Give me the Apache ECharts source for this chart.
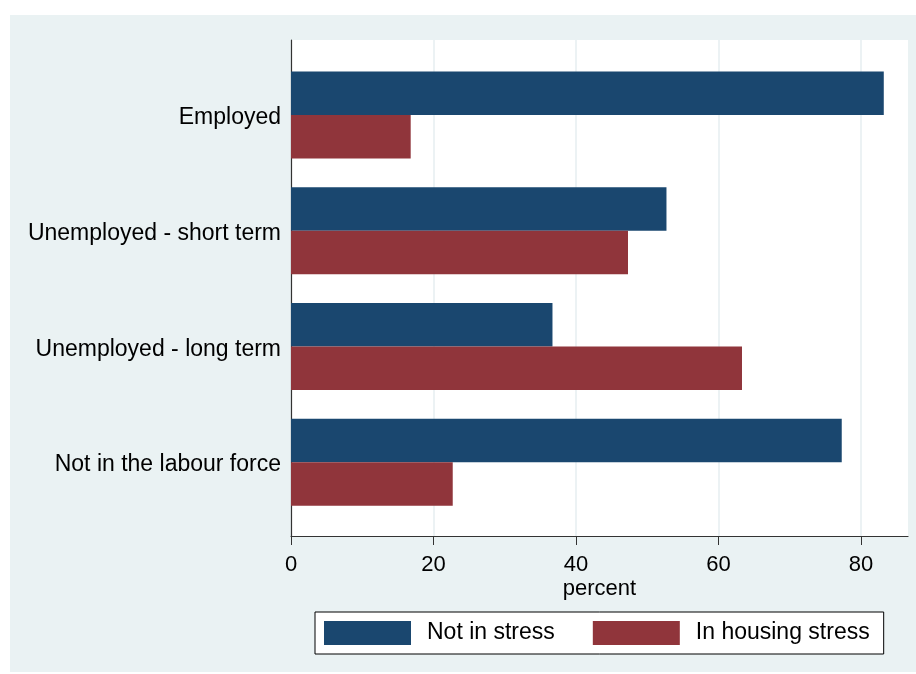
<!DOCTYPE html>
<html>
<head>
<meta charset="utf-8">
<script src="https://cdn.jsdelivr.net/npm/echarts@6/dist/echarts.min.js"></script>
<style>
  html, body { margin: 0; padding: 0; background: #fff; }
  #main { width: 916px; height: 674px; }
</style>
</head>
<body>
<div id="main"></div>
<script>
// labour force status, share of people in / not in housing stress (percent)
var categories = ['Employed', 'Unemployed - short term', 'Unemployed - long term', 'Not in the labour force'];
var notInStress = [83.2, 52.7, 36.7, 77.3];
var inHousingStress = [16.8, 47.3, 63.3, 22.7];
var xTicks = [0, 20, 40, 60, 80];

var chart = echarts.init(document.getElementById('main'));
var font = '"Liberation Sans", Arial, sans-serif';
var xMax = 86.6;

var option = {
  backgroundColor: '#fff',
  animation: false,
  graphic: [{
    type: 'rect',
    z: -10,
    silent: true,
    shape: { x: 10, y: 15, width: 906, height: 657 },
    style: { fill: '#eaf2f3' }
  }],
  grid: [
    // plot frame: white panel + axes
    { left: 291, right: 8, top: 40, bottom: 138, show: true, backgroundColor: '#fff', borderWidth: 0 },
    // bars
    { left: 291, right: 8, top: 57, height: 463 }
  ],
  xAxis: [
    {
      gridIndex: 0, type: 'value', min: 0, max: xMax, interval: 20,
      axisLine: { show: true, onZero: false, lineStyle: { color: '#333', width: 1.2 } },
      axisTick: { show: true, length: 9, customValues: xTicks, lineStyle: { color: '#333' } },
      axisLabel: { fontSize: 22, color: '#000', fontFamily: font, margin: 18, customValues: xTicks },
      splitLine: { show: true, lineStyle: { color: '#e6eef1', width: 1.5 } },
      name: 'percent', nameLocation: 'middle', nameGap: 42, nameMoveOverlap: false,
      nameTextStyle: { fontSize: 22, color: '#000', fontFamily: font }
    },
    { gridIndex: 1, type: 'value', min: 0, max: xMax, show: false }
  ],
  yAxis: [
    {
      gridIndex: 0, type: 'value', min: 0, max: 1,
      axisLine: { show: true, onZero: false, lineStyle: { color: '#333', width: 1.2 } },
      axisTick: { show: false }, axisLabel: { show: false }, splitLine: { show: false }
    },
    {
      gridIndex: 1, type: 'category', inverse: true, data: categories,
      axisLine: { show: false }, axisTick: { show: false },
      axisLabel: {
        margin: 10,
        formatter: function (v) { return '{c|' + v + '}'; },
        rich: { c: { fontSize: 23, color: '#000', fontFamily: font, padding: [6, 0, 0, 0] } }
      }
    }
  ],
  legend: {
    data: ['Not in stress', 'In housing stress'],
    left: 315, top: 612,
    orient: 'horizontal',
    borderColor: '#000', borderWidth: 1, borderRadius: 0,
    backgroundColor: '#fff',
    padding: [9, 14, 9, 9],
    itemWidth: 87, itemHeight: 24, itemGap: 38,
    icon: 'rect',
    textStyle: { fontSize: 23, color: '#000', fontFamily: font, padding: [0, 0, 0, 11] }
  },
  series: [
    {
      name: 'Not in stress', type: 'bar', xAxisIndex: 1, yAxisIndex: 1,
      data: notInStress, barWidth: 43.5, barGap: '0%',
      itemStyle: { color: '#1a476f' }
    },
    {
      name: 'In housing stress', type: 'bar', xAxisIndex: 1, yAxisIndex: 1,
      data: inHousingStress, barWidth: 43.5, barGap: '0%',
      itemStyle: { color: '#90353b' }
    }
  ]
};

chart.setOption(option);
</script>
</body>
</html>
